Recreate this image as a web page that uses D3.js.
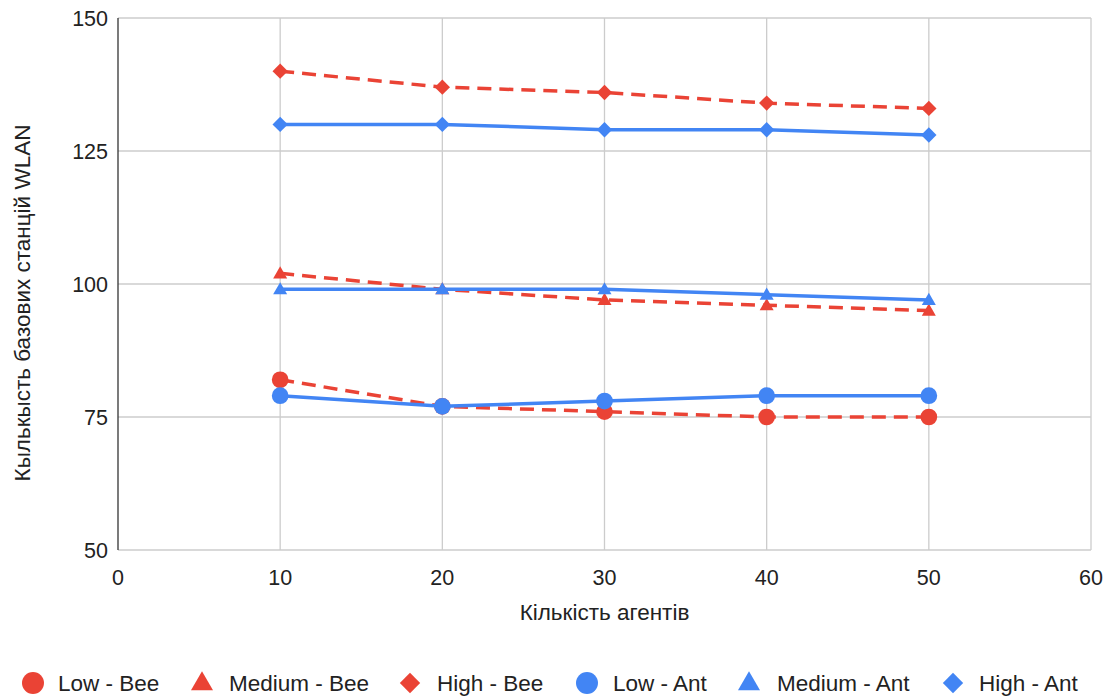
<!DOCTYPE html>
<html>
<head>
<meta charset="utf-8">
<script src="https://cdn.jsdelivr.net/npm/d3@7"></script>
<style>
  body { margin: 0; background: #fff; }
  text { font-family: Arial, 'Liberation Sans', sans-serif; fill: #222; }
</style>
</head>
<body>
<svg id="chart" width="1120" height="700"></svg>
<script>
const agents = [10, 20, 30, 40, 50];
const lowBee = [82, 77, 76, 75, 75];
const mediumBee = [102, 99, 97, 96, 95];
const highBee = [140, 137, 136, 134, 133];
const lowAnt = [79, 77, 78, 79, 79];
const mediumAnt = [99, 99, 99, 98, 97];
const highAnt = [130, 130, 129, 129, 128];
const xTicks = [0, 10, 20, 30, 40, 50, 60];
const yTicks = [50, 75, 100, 125, 150];

const red = '#ea4335';
const blue = '#4285f4';

const series = [
    {name: 'Low - Bee', values: lowBee, color: red, shape: 'circle', dashed: true},
    {name: 'Medium - Bee', values: mediumBee, color: red, shape: 'triangle', dashed: true},
    {name: 'High - Bee', values: highBee, color: red, shape: 'diamond', dashed: true},
    {name: 'Low - Ant', values: lowAnt, color: blue, shape: 'circle', dashed: false},
    {name: 'Medium - Ant', values: mediumAnt, color: blue, shape: 'triangle', dashed: false},
    {name: 'High - Ant', values: highAnt, color: blue, shape: 'diamond', dashed: false}
];

const svg = d3.select('#chart');
const plotLeft = 118, plotRight = 1091, plotTop = 18, plotBottom = 550;

const xScale = d3.scaleLinear().domain([0, 60]).range([plotLeft, plotRight]);
const yScale = d3.scaleLinear().domain([50, 150]).range([plotBottom, plotTop]);

// grid
svg.append('g')
    .selectAll('line')
    .data(yTicks)
    .join('line')
    .attr('x1', plotLeft).attr('x2', plotRight)
    .attr('y1', d => yScale(d)).attr('y2', d => yScale(d))
    .attr('stroke', '#cccccc').attr('stroke-width', 1.3);

svg.append('g')
    .selectAll('line')
    .data(xTicks.slice(1))
    .join('line')
    .attr('x1', d => xScale(d)).attr('x2', d => xScale(d))
    .attr('y1', plotTop).attr('y2', plotBottom)
    .attr('stroke', '#cccccc').attr('stroke-width', 1.3);

// left axis line
svg.append('line')
    .attr('x1', plotLeft).attr('x2', plotLeft)
    .attr('y1', plotTop).attr('y2', plotBottom)
    .attr('stroke', '#333').attr('stroke-width', 1.3);

// tick labels
svg.append('g')
    .selectAll('text')
    .data(yTicks)
    .join('text')
    .attr('x', plotLeft - 10)
    .attr('y', d => yScale(d))
    .attr('dy', '0.35em')
    .attr('text-anchor', 'end')
    .style('font-size', '21.5px')
    .text(d => d);

svg.append('g')
    .selectAll('text')
    .data(xTicks)
    .join('text')
    .attr('x', d => xScale(d))
    .attr('y', 577)
    .attr('dy', '0.35em')
    .attr('text-anchor', 'middle')
    .style('font-size', '21.5px')
    .text(d => d);

// axis titles
svg.append('text')
    .attr('x', xScale(30))
    .attr('y', 612)
    .attr('dy', '0.35em')
    .attr('text-anchor', 'middle')
    .style('font-size', '22.5px')
    .text('Кількість агентів');

svg.append('text')
    .attr('transform', 'translate(22,303) rotate(-90)')
    .attr('dy', '0.35em')
    .attr('text-anchor', 'middle')
    .style('font-size', '22.5px')
    .text('Кылькысть базових станцій WLAN');

const symbolFor = shape => {
    if(shape === 'circle') return d3.symbol().type(d3.symbolCircle).size(220);
    if(shape === 'triangle') return d3.symbol().type(d3.symbolTriangle).size(85);
    return d3.symbol().type(d3.symbolDiamond2).size(150);
};

const line = d3.line()
    .x(d => xScale(d.x))
    .y(d => yScale(d.y));

// series in order: ant lines end up over the bee ones
for(const s of series) {
    const pts = agents.map((a, k) => ({x: a, y: s.values[k]}));
    svg.append('path')
        .attr('d', line(pts))
        .attr('fill', 'none')
        .attr('stroke', s.color)
        .attr('stroke-width', 3.5)
        .attr('stroke-dasharray', s.dashed ? '14,8' : null);

    svg.append('g')
        .selectAll('path')
        .data(pts)
        .join('path')
        .attr('transform', d => `translate(${xScale(d.x)},${yScale(d.y) + (s.shape === 'triangle' ? 1 : 0)})`)
        .attr('d', symbolFor(s.shape)())
        .attr('fill', s.color);
}

// legend
const legendX = [33, 202, 410, 587, 749, 953];
const legendTextX = [58, 229, 437, 613, 777, 979];
const legend = svg.append('g')
    .selectAll('g')
    .data(series)
    .join('g')
    .attr('transform', (d, i) => `translate(${legendX[i]},683)`);

legend.append('path')
    .attr('d', d => symbolFor(d.shape).size(d.shape === 'circle' ? 380 : d.shape === 'triangle' ? 210 : 264)())
    .attr('transform', d => d.shape === 'triangle' ? 'translate(0,1)' : null)
    .attr('fill', d => d.color);

legend.append('text')
    .attr('x', (d, i) => legendTextX[i] - legendX[i])
    .attr('dy', '0.35em')
    .style('font-size', '22.5px')
    .text(d => d.name);
</script>
</body>
</html>
